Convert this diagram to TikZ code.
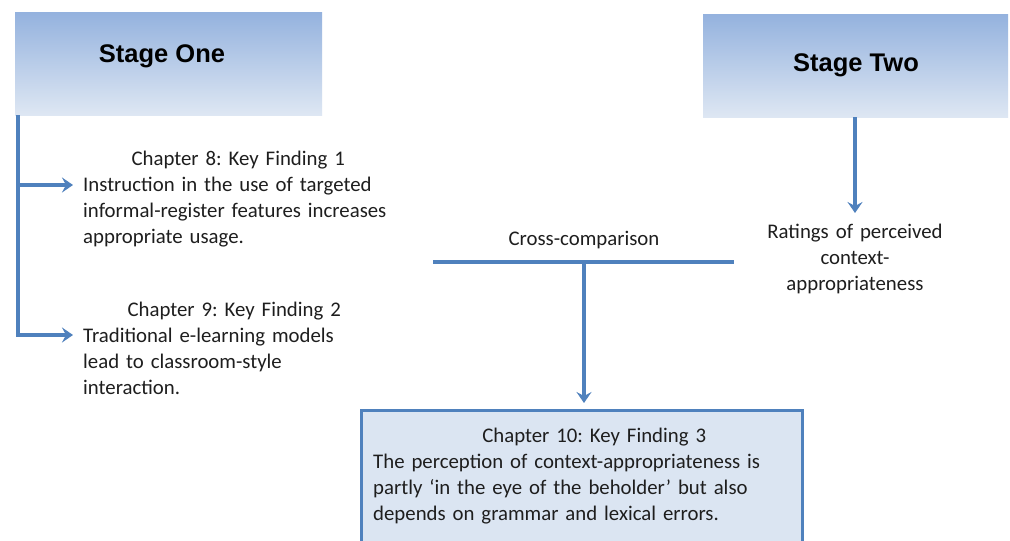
\documentclass[tikz,border=0pt]{standalone}
\usepackage{fontspec}
\setmainfont{Carlito}
\newfontfamily\headfont{Liberation Sans}
\usetikzlibrary{arrows.meta}
\frenchspacing

\definecolor{linkblue}{RGB}{79,129,189}
\definecolor{stagetop}{RGB}{148,178,222}
\definecolor{stagebot}{RGB}{222,231,243}
\definecolor{findfill}{RGB}{219,229,242}
\definecolor{inktext}{RGB}{30,30,30}

\tikzset{
  stagebox/.style={rectangle, top color=stagetop, bottom color=stagebot,
    draw=none, minimum width=307pt, minimum height=103pt, inner sep=0pt},
  stagetitle/.style={font=\headfont\bfseries\fontsize{25.5}{30}\selectfont, text=black},
  bodytext/.style={font=\fontsize{20.8}{26}\selectfont, text=inktext, inner sep=0pt},
  findbox/.style={rectangle, draw=linkblue, line width=3pt, fill=findfill, inner sep=0pt},
  link/.style={draw=linkblue, line width=3.5pt},
  tip/.style={-{Stealth[length=11pt, width=15pt, inset=4pt]}}
}

\begin{document}
\begin{tikzpicture}[x=1pt, y=-1pt]
  \clip (0,0) rectangle (1010,541);
  \fill[white] (0,0) rectangle (1010,541);

  % the two stage headers
  \node[stagebox, anchor=north west] (s1) at (15,12) {};
  \node[stagetitle] (s1t) at (162,56) {Stage One};
  \node[stagebox, anchor=north west, minimum width=305pt] (s2) at (703,14) {};
  \node[stagetitle] (s2t) at (856,65) {Stage Two};

  % stage one findings
  \node[bodytext, anchor=base west, text width=310pt, align=left] (f1) at (83,165)
    {\makebox[\linewidth][c]{Chapter 8: Key Finding 1}\\
     Instruction in the use of targeted\\
     informal-register features increases\\
     appropriate usage.};
  \node[bodytext, anchor=base west, text width=302pt, align=left] (f2) at (83,316)
    {\makebox[\linewidth][c]{Chapter 9: Key Finding 2}\\
     Traditional e-learning models\\
     lead to classroom-style\\
     interaction.};

  % stage two result
  \node[bodytext, anchor=base, text width=220pt, align=center] (rat) at (855,238)
    {Ratings of perceived\\ context-\\ appropriateness};

  % cross-comparison bar
  \node[bodytext, anchor=base] (cc) at (584,245) {Cross-comparison};
  \coordinate (cl) at (433,262);
  \coordinate (cr) at (734,262);
  \coordinate (cm) at (584,262);

  % final finding box
  \node[findbox, anchor=north west, minimum width=441pt, minimum height=160pt] (f3box) at (360,409) {};
  \node[bodytext, anchor=base west, text width=442pt, align=left] (f3) at (373,442)
    {\makebox[\linewidth][c]{Chapter 10: Key Finding 3}\\
     The perception of context-appropriateness is\\
     partly `in the eye of the beholder' but also\\
     depends on grammar and lexical errors.};

  % connectors
  \coordinate (j1) at (18,185);
  \coordinate (j2) at (18,335);
  \coordinate (rtip) at (855,213);
  \draw[link, tip, shorten >=10pt] (s1.south -| j2) -- (j2) -- (f2.west |- j2);
  \draw[link, tip, shorten >=10pt] (j1) -- (f1.west |- j1);
  \draw[link, tip] (s2.south -| rat) -- (rtip);
  \draw[link] (cl) -- (cr);
  \draw[link, tip, shorten >=6pt] (cm) -- (cm |- f3box.north);
\end{tikzpicture}
\end{document}
